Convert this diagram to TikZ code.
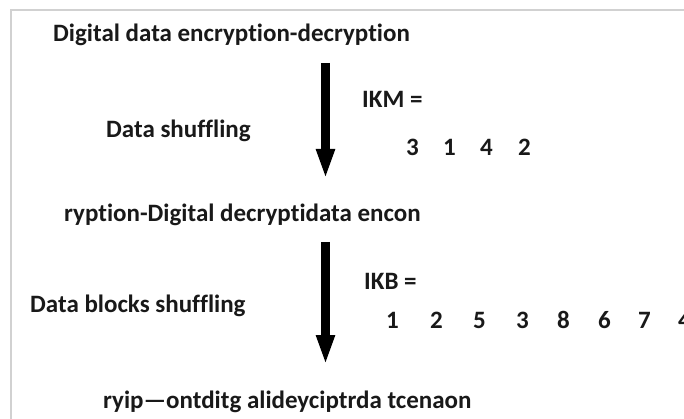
\documentclass[tikz,border=0pt]{standalone}
\usepackage{fontspec}
\setmainfont{Carlito}[Ligatures=NoCommon]
\usetikzlibrary{arrows.meta}
\begin{document}
\begin{tikzpicture}[x=1pt,y=-1pt,
  lbl/.style={anchor=base west,inner sep=0pt,font=\bfseries\fontsize{25}{29}\selectfont,text=black!90},
  dig/.style={lbl},
  bigarrow/.style={line width=9pt,-{Triangle[width=17pt,length=30pt]}}]
\useasboundingbox (0,0) rectangle (684,419);
\fill[white] (0,0) rectangle (684,419);
\draw[black!18,line width=2pt] (11,419) -- (11,10) -- (684,10);
\node[lbl] (t1) at (53,42) {Digital data encryption-decryption};
\node[lbl] (s1) at (106,138) {Data shuffling};
\node[lbl] (ikm) at (362,108) {IKM =};
\foreach \d/\x [count=\i] in {3/406,1/443,4/480,2/518}
  \node[dig] (m\i) at (\x,156) {\d};
\node[lbl] (t2) at (64,222) {ryption-Digital decryptidata encon};
\node[lbl] (ikb) at (364,289) {IKB =};
\node[lbl] (s2) at (30,312) {Data blocks shuffling};
\foreach \d/\x [count=\i] in {1/386,2/430,5/473,3/516,8/557,6/598,7/638,4/678}
  \node[dig] (b\i) at (\x,328) {\d};
\node[lbl] (t3) at (103,408) {ryip—ontditg alideyciptrda tcenaon};
\coordinate (a1s) at (325.5,63);
\coordinate (a1e) at (325.5,179);
\coordinate (a2s) at (325.5,242);
\coordinate (a2e) at (325.5,365);
\draw[bigarrow] (a1s) -- (a1e);
\draw[bigarrow] (a2s) -- (a2e);
\end{tikzpicture}
\end{document}
